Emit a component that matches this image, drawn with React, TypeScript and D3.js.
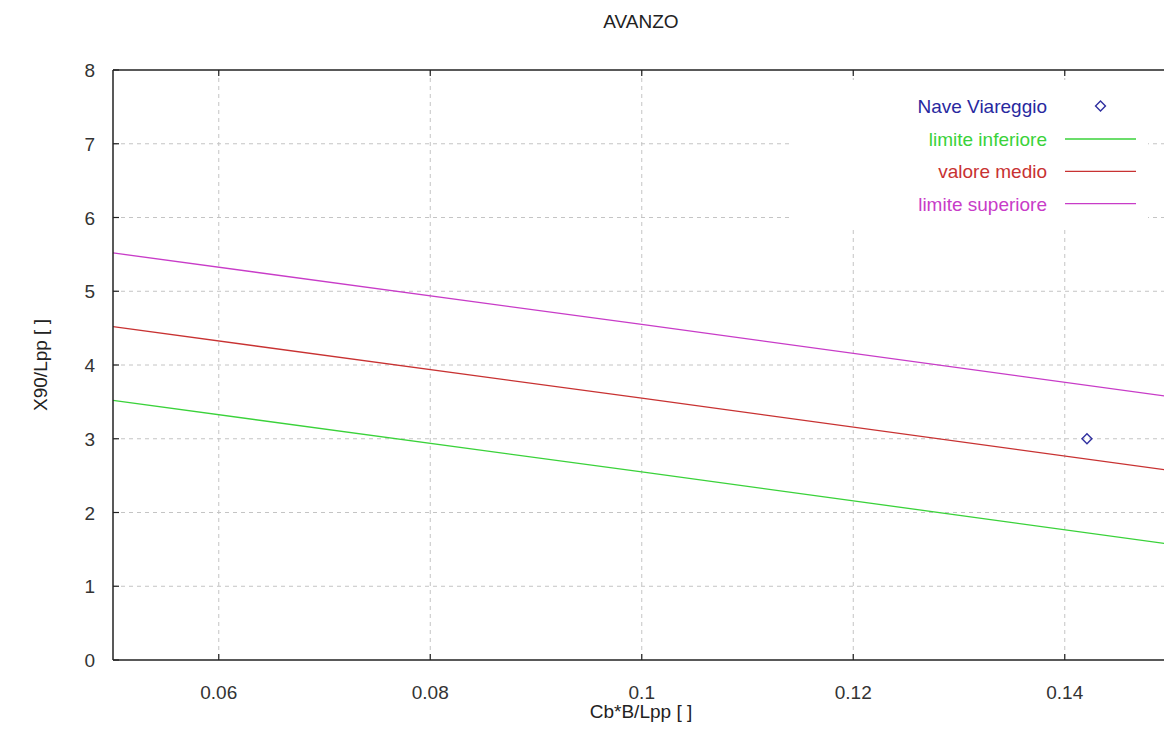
import React from "react";
import * as d3 from "d3";

const xTicks = [0.06, 0.08, 0.1, 0.12, 0.14];
const yTicks = [0, 1, 2, 3, 4, 5, 6, 7, 8];
const lineX = [0.05, 0.1, 0.15];
const upperY = [5.52, 4.55, 3.57];
const medioY = [4.52, 3.55, 2.57];
const lowerY = [3.52, 2.55, 1.57];
const pointX = [0.1421];
const pointY = [3.0];

const series = [
  { name: "limite inferiore", values: lowerY, color: "#3ad23a", text: "#3ad23a" },
  { name: "valore medio", values: medioY, color: "#c83232", text: "#c83232" },
  { name: "limite superiore", values: upperY, color: "#c83cc8", text: "#c83cc8" },
];

export default function App() {
  const W = 1164, H = 754;
  const left = 113, top = 70, bottom = 660, rightEnd = 1170.5;
  const x = d3.scaleLinear().domain([0.05, 0.15]).range([left, rightEnd]);
  const y = d3.scaleLinear().domain([0, 8]).range([bottom, top]);
  const line = d3.line<number>().x((_, i) => x(lineX[i])).y((d) => y(d));
  const font = "'Liberation Sans', Arial, sans-serif";
  const fs = 19;
  const gridColor = "#c4c4c4";
  const m = 7;
  return (
    <svg width={W} height={H} style={{ position: "absolute", left: 0, top: 0, background: "#fff" }}>
      <defs>
        <clipPath id="plot">
          <rect x={left} y={top} width={rightEnd - left} height={bottom - top} />
        </clipPath>
      </defs>
      <rect x={0} y={0} width={W} height={H} fill="#fff" />
      {/* grid */}
      {xTicks.map((t) => (
        <line key={"gx" + t} x1={x(t)} x2={x(t)} y1={top} y2={bottom} stroke={gridColor} strokeDasharray="4,4" />
      ))}
      {yTicks.slice(1, -1).map((t) => (
        <line key={"gy" + t} x1={left} x2={W} y1={y(t)} y2={y(t)} stroke={gridColor} strokeDasharray="4,4" />
      ))}
      {/* legend background */}
      <rect x={792} y={80} width={356} height={146} fill="#fff" />
      {/* series */}
      <g clipPath="url(#plot)">
        {series.map((s) => (
          <path key={s.name} d={line(s.values) || ""} fill="none" stroke={s.color} strokeWidth={1.3} />
        ))}
        {pointX.map((px, i) => (
          <rect key={"p" + i} x={x(px) - m / 2} y={y(pointY[i]) - m / 2} width={m} height={m}
            transform={`rotate(45 ${x(px)} ${y(pointY[i])})`} fill="none" stroke="#3030a0" strokeWidth={1.4} />
        ))}
      </g>
      {/* frame */}
      <line x1={left} x2={W} y1={top} y2={top} stroke="#222" strokeWidth={1.5} />
      <line x1={left} x2={W} y1={bottom} y2={bottom} stroke="#222" strokeWidth={1.5} />
      <line x1={left} x2={left} y1={top} y2={bottom} stroke="#222" strokeWidth={1.5} />
      {/* ticks */}
      {xTicks.map((t) => (
        <g key={"tx" + t}>
          <line x1={x(t)} x2={x(t)} y1={bottom} y2={bottom - 6} stroke="#222" strokeWidth={1.2} />
          <line x1={x(t)} x2={x(t)} y1={top} y2={top + 6} stroke="#222" strokeWidth={1.2} />
          <text x={x(t)} y={699} textAnchor="middle" fontFamily={font} fontSize={fs} fill="#333">{String(t)}</text>
        </g>
      ))}
      {yTicks.map((t) => (
        <g key={"ty" + t}>
          <line x1={left} x2={left + 6} y1={y(t)} y2={y(t)} stroke="#222" strokeWidth={1.2} />
          <text x={95} y={y(t) + 7} textAnchor="end" fontFamily={font} fontSize={fs} fill="#333">{String(t)}</text>
        </g>
      ))}
      {/* legend */}
      <text x={1047} y={113} textAnchor="end" fontFamily={font} fontSize={fs} fill="#2828a0">Nave Viareggio</text>
      <rect x={1100.5 - m / 2} y={106 - m / 2} width={m} height={m} transform="rotate(45 1100.5 106)" fill="none" stroke="#3030a0" strokeWidth={1.4} />
      {series.map((s, i) => {
        const ly = 146 + i * 32.3;
        return (
          <g key={"lg" + s.name}>
            <text x={1047} y={ly} textAnchor="end" fontFamily={font} fontSize={fs} fill={s.text}>{s.name}</text>
            <line x1={1065} x2={1136} y1={ly - 7} y2={ly - 7} stroke={s.color} strokeWidth={1.3} />
          </g>
        );
      })}
      {/* titles */}
      <text x={641} y={28} textAnchor="middle" fontFamily={font} fontSize={fs} fill="#222">AVANZO</text>
      <text x={641} y={718} textAnchor="middle" fontFamily={font} fontSize={fs} fill="#222">Cb*B/Lpp [ ]</text>
      <text transform="translate(47 365) rotate(-90)" textAnchor="middle" fontFamily={font} fontSize={fs} fill="#222">X90/Lpp [ ]</text>
    </svg>
  );
}
